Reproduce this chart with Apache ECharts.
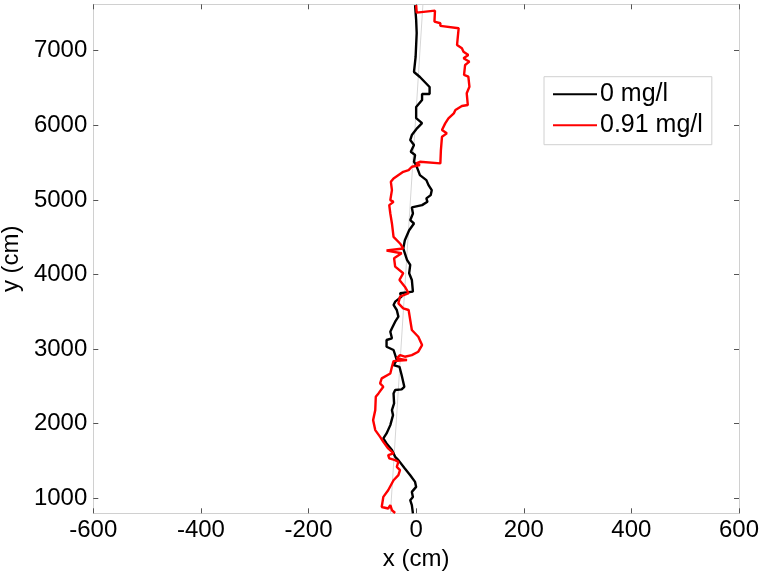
<!DOCTYPE html>
<html>
<head>
<meta charset="utf-8">
<script src="https://cdn.jsdelivr.net/npm/echarts@6/dist/echarts.min.js"></script>
<style>
html,body{margin:0;padding:0;background:#fff;}
#chart{width:759px;height:573px;}
</style>
</head>
<body>
<div id="chart"></div>
<script>
// ---- data (x in cm, y in cm) ----
const seriesNames = ['0 mg/l', '0.91 mg/l'];
const xTicks = [-600, -400, -200, 0, 200, 400, 600];
const yTicks = [1000, 2000, 3000, 4000, 5000, 6000, 7000];
const xRange = [-600, 600];
const yRange = [799, 7622];

const track0 = [
  [-2,7612],[0,7413],[1,7238],[-1,6916],[-4,6715],[7,6648],[25,6513],[25,6419],[11,6419],[11,6339],
  [0,6245],[0,6097],[11,6030],[2,5963],[-8,5869],[-11,5802],[-4,5735],[-10,5645],[-2,5601],[-4,5511],
  [0,5467],[7,5332],[19,5265],[23,5198],[29,5131],[27,5064],[19,5020],[21,4974],[11,4930],[-8,4899],
  [-6,4818],[-11,4728],[-4,4684],[-13,4594],[-17,4527],[-21,4460],[-24,4349],[-17,4195],[-11,4128],[-13,4017],
  [-8,3927],[-6,3770],[-30,3749],[-27,3703],[-39,3636],[-42,3592],[-36,3524],[-33,3435],[-39,3368],[-45,3279],
  [-48,3233],[-45,3145],[-55,3122],[-55,3032],[-42,2988],[-39,2921],[-36,2853],[-42,2786],[-31,2763],[-27,2652],
  [-22,2495],[-27,2460],[-39,2451],[-42,2406],[-41,2272],[-45,2182],[-43,2115],[-48,1981],[-55,1870],[-61,1803],
  [-55,1736],[-45,1646],[-39,1556],[-33,1512],[-21,1400],[-11,1310],[-2,1220],[0,1153],[-8,1086],[-6,1019],
  [-11,975],[-8,908],[-6,799]
];

const track091 = [
  [0,7612],[1,7511],[35,7537],[34,7390],[45,7368],[45,7332],[79,7301],[76,7077],[85,7033],[88,6987],
  [97,6943],[88,6899],[99,6853],[91,6809],[89,6675],[97,6652],[99,6517],[94,6429],[96,6272],[85,6258],
  [73,6205],[70,6160],[60,6093],[54,6026],[48,5936],[57,5892],[48,5846],[46,5668],[45,5489],[7,5511],
  [0,5489],[7,5467],[-8,5444],[-14,5399],[-24,5377],[-42,5288],[-47,5242],[-45,5131],[-48,4997],[-42,4974],
  [-50,4930],[-48,4818],[-45,4684],[-42,4504],[-30,4416],[-24,4349],[-55,4321],[-27,4285],[-41,4218],[-39,4106],
  [-24,4017],[-31,3927],[-21,3837],[-14,3749],[-30,3703],[-33,3614],[-24,3547],[-14,3524],[-11,3390],[-8,3256],
  [4,3166],[11,3054],[4,2965],[-8,2920],[-21,2898],[-30,2920],[-36,2876],[-17,2853],[-42,2839],[-45,2763],
  [-48,2674],[-64,2608],[-67,2541],[-61,2495],[-70,2406],[-75,2361],[-76,2182],[-80,2048],[-76,1914],[-67,1824],
  [-61,1757],[-52,1668],[-42,1601],[-52,1578],[-50,1534],[-39,1511],[-33,1489],[-36,1422],[-30,1378],[-33,1310],
  [-42,1242],[-52,1108],[-61,1019],[-64,884],[-52,863],[-48,907],[-45,840],[-39,803]
];

const fitLine = [[12.6,7622],[-47.8,799]];

// ---- chart ----
const FONT = "'Liberation Sans', Arial, sans-serif";
const frameColor = '#d0d0d0';
const tickColor = '#555';
const plain = v => String(v);

const chart = echarts.init(document.getElementById('chart'), null, {renderer:'canvas'});

const baseX = {
  type:'value', min:xRange[0], max:xRange[1], interval:200,
  splitLine:{show:false},
  axisLine:{show:true, onZero:false, lineStyle:{color:frameColor, width:1}},
  axisTick:{show:true, inside:true, length:5, lineStyle:{color:tickColor, width:1}}
};
const baseY = {
  type:'value', min:yRange[0], max:yRange[1],
  splitLine:{show:false},
  axisLine:{show:true, onZero:false, lineStyle:{color:frameColor, width:1}},
  axisTick:{show:true, inside:true, length:5, customValues:yTicks, lineStyle:{color:tickColor, width:1}}
};

chart.setOption({
  animation:false,
  backgroundColor:'#fff',
  grid:{left:93.3, right:20, top:4.3, bottom:59.7, containLabel:false, outerBoundsMode:'none'},
  xAxis:[
    Object.assign({}, baseX, {
      position:'bottom',
      name:'x (cm)', nameLocation:'middle', nameGap:30,
      nameTextStyle:{color:'#000', fontSize:24, fontFamily:FONT},
      axisLabel:{show:true, color:'#000', fontSize:24, fontFamily:FONT, margin:5,
        customValues:xTicks, formatter:plain}
    }),
    Object.assign({}, baseX, {position:'top', axisLabel:{show:false}})
  ],
  yAxis:[
    Object.assign({}, baseY, {
      position:'left',
      name:'y (cm)', nameLocation:'middle', nameGap:68,
      nameTextStyle:{color:'#000', fontSize:24, fontFamily:FONT},
      axisLabel:{show:true, color:'#000', fontSize:24, fontFamily:FONT, margin:6,
        customValues:yTicks, formatter:plain}
    }),
    Object.assign({}, baseY, {position:'right', axisLabel:{show:false}})
  ],
  legend:{
    data:seriesNames,
    orient:'vertical',
    left:544, top:76.7,
    padding:[5,9,7,9],
    itemGap:6,
    itemWidth:44, itemHeight:2,
    icon:'rect',
    borderColor:'#d0d0d0', borderWidth:1,
    backgroundColor:'#fff',
    textStyle:{color:'#000', fontSize:25, fontFamily:FONT, padding:[0,0,0,-2]}
  },
  series:[
    {
      name:'fit', type:'line', data:fitLine, showSymbol:false, symbol:'none',
      lineStyle:{color:'#d6d6d6', width:1}, silent:true, z:1
    },
    {
      name:seriesNames[0], type:'line', data:track0, showSymbol:false, symbol:'none',
      lineStyle:{color:'#000000', width:2.4}, itemStyle:{color:'#000000'}, z:2
    },
    {
      name:seriesNames[1], type:'line', data:track091, showSymbol:false, symbol:'none',
      lineStyle:{color:'#ff0000', width:2.4}, itemStyle:{color:'#ff0000'}, z:3
    }
  ]
});
</script>
</body>
</html>
